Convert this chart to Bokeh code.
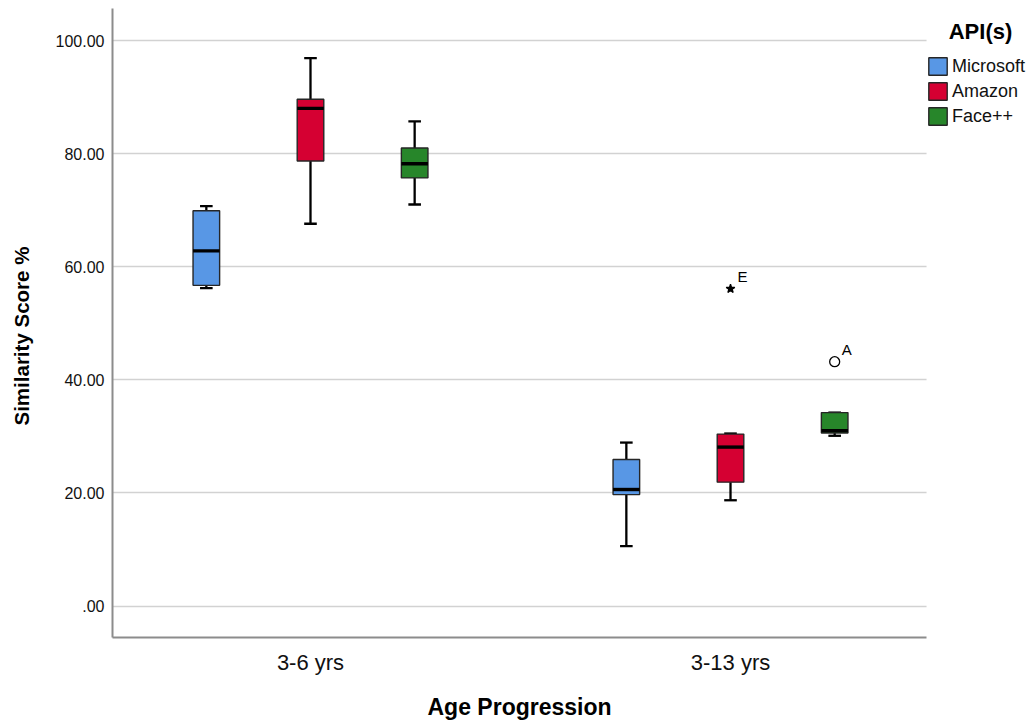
from bokeh.plotting import figure
from bokeh.models import (ColumnDataSource, FixedTicker, Range1d, Legend, LegendItem,
                          Label, BoxAnnotation, Title, LinearAxis)
from bokeh.core.properties import value
from bokeh.embed import file_html
from bokeh.resources import INLINE

# ---------------- data ----------------
groups = ["3-6 yrs", "3-13 yrs"]
apis = ["Microsoft", "Amazon", "Face++"]
api_colors = ["#5897E5", "#D50032", "#27862A"]

# statistics per API, one value per age group (order of `groups`)
whisker_low = {"Microsoft": [56.2, 10.6], "Amazon": [67.6, 18.7], "Face++": [71.0, 30.1]}
q1 = {"Microsoft": [56.7, 19.7], "Amazon": [78.7, 21.9], "Face++": [75.7, 30.6]}
median = {"Microsoft": [62.8, 20.6], "Amazon": [88.0, 28.1], "Face++": [78.2, 31.0]}
q3 = {"Microsoft": [69.9, 25.9], "Amazon": [89.6, 30.4], "Face++": [81.0, 34.2]}
whisker_high = {"Microsoft": [70.7, 28.9], "Amazon": [96.9, 30.5], "Face++": [85.7, 34.2]}

outlier_group = ["3-13 yrs", "3-13 yrs"]
outlier_api = ["Amazon", "Face++"]
outlier_value = [56.1, 43.2]
outlier_label = ["E", "A"]
outlier_kind = ["extreme", "outlier"]

y_ticks = [0, 20, 40, 60, 80, 100]
y_tick_labels = [".00", "20.00", "40.00", "60.00", "80.00", "100.00"]

x_title = "Age Progression"
y_title = "Similarity Score %"
legend_title = "API(s)"

# ---------------- layout constants ----------------
FONT = "Liberation Sans"
dodge = 0.248
box_w = 0.0633
cap_w = 0.030
x_start, x_plot_end, x_end = -0.4714, 1.4667, 1.719
y_start, y_end = -5.57, 105.66

p = figure(width=1032, height=722, output_backend="svg", toolbar_location=None,
           x_range=Range1d(x_start, x_end), y_range=Range1d(y_start, y_end),
           min_border_left=112, min_border_right=0, min_border_top=8,
           min_border_bottom=85)
p.outline_line_color = None
p.background_fill_color = "white"
p.border_fill_color = "white"

legend_items = []
for i, api in enumerate(apis):
    xs = [gi + (i - 1) * dodge for gi in range(len(groups))]
    src = ColumnDataSource(dict(
        x=xs,
        x0=[x - box_w / 2 for x in xs], x1=[x + box_w / 2 for x in xs],
        c0=[x - cap_w / 2 for x in xs], c1=[x + cap_w / 2 for x in xs],
        lo=whisker_low[api], q1=q1[api], med=median[api], q3=q3[api], hi=whisker_high[api],
    ))
    for a, b in [("q3", "hi"), ("q1", "lo")]:
        p.segment(x0="x", y0=a, x1="x", y1=b, source=src, line_color="black", line_width=2.3)
    for c in ["hi", "lo"]:
        p.segment(x0="c0", y0=c, x1="c1", y1=c, source=src, line_color="black", line_width=2.3)
    r = p.vbar(x="x", width=box_w, bottom="q1", top="q3", source=src,
               fill_color=api_colors[i], line_color="#262626", line_width=1.4)
    p.segment(x0="x0", y0="med", x1="x1", y1="med", source=src, line_color="black",
              line_width=3.4)
    legend_items.append(LegendItem(label=api, renderers=[r]))

# outliers
ox = [groups.index(g) + (apis.index(a) - 1) * dodge for g, a in zip(outlier_group, outlier_api)]
for kind, marker, fill in [("extreme", "star", "black"), ("outlier", "circle", "white")]:
    idx = [k for k, v in enumerate(outlier_kind) if v == kind]
    s = ColumnDataSource(dict(x=[ox[k] for k in idx], y=[outlier_value[k] for k in idx],
                              t=[outlier_label[k] for k in idx]))
    p.scatter(x="x", y="y", source=s, marker=marker, size=10 if marker == "circle" else 9,
              fill_color=fill, line_color="black", line_width=1.3)
    p.text(x="x", y="y", text="t", source=s, x_offset=7, y_offset=-12,
           text_align="left", text_baseline="middle", text_font=value(FONT),
           text_font_size="15px", text_color="black")

# axes
p.xaxis.ticker = FixedTicker(ticks=list(range(len(groups))))
p.xaxis.major_label_overrides = {i: g for i, g in enumerate(groups)}
p.xaxis.bounds = (x_start, x_plot_end)
p.yaxis.ticker = FixedTicker(ticks=y_ticks)
p.yaxis.major_label_overrides = {t: l for t, l in zip(y_ticks, y_tick_labels)}
for ax in (p.xaxis, p.yaxis):
    ax.axis_line_color = "#8c8c8c"
    ax.axis_line_width = 2
    ax.major_tick_line_color = None
    ax.minor_tick_line_color = None
    ax.major_tick_out = 0
    ax.major_tick_in = 0
    ax.major_label_text_font = FONT
    ax.major_label_text_color = "#111111"

p.xaxis.major_label_text_font_size = "22px"
p.xaxis.major_label_standoff = 12
p.yaxis.major_label_text_font_size = "16px"
p.yaxis.major_label_standoff = 8

# invisible spacer axes (one white tick in an empty corner, no labels),
# so the titles sit at the outer edges of the picture
def spacer(gap, tick):
    return LinearAxis(ticker=FixedTicker(ticks=[tick]), axis_line_color=None,
                      major_tick_line_color="white", minor_tick_line_color=None,
                      major_tick_out=gap, major_tick_in=0, major_label_standoff=0,
                      major_label_text_color=None)

p.add_layout(spacer(12, x_end - 0.02), "below")
p.add_layout(spacer(9, y_start + 0.5), "left")

# axis titles placed relative to the visible plotting region
p.add_layout(Title(text=x_title, align="left", offset=315, standoff=4,
                   vertical_align="bottom",
                   text_font=FONT, text_font_size="23px", text_font_style="bold",
                   text_color="black"), "below")
p.add_layout(Title(text=y_title, align="left", offset=212, standoff=18,
                   vertical_align="top",
                   text_font=FONT, text_font_size="20.5px", text_font_style="bold",
                   text_color="black"), "left")

p.xgrid.grid_line_color = None
p.ygrid.ticker = FixedTicker(ticks=y_ticks)
p.ygrid.grid_line_color = "#d2d2d2"
p.ygrid.grid_line_width = 1.6

# blank area right of the plotting region (legend area)
p.add_layout(BoxAnnotation(left=x_plot_end, fill_color="white", fill_alpha=1.0,
                           line_color=None, level="underlay"))

# legend
legend = Legend(items=legend_items, location=(814, 510), orientation="vertical",
                glyph_width=23, glyph_height=22, label_height=22, spacing=3,
                label_standoff=3, padding=0, margin=0,
                label_text_font=FONT, label_text_font_size="18px",
                label_text_color="#111111",
                border_line_color=None, background_fill_alpha=0)
p.add_layout(legend)
p.add_layout(Label(x=868, y=606, x_units="screen", y_units="screen", text=legend_title,
                   text_align="center", text_baseline="middle", text_font=FONT,
                   text_font_size="22px", text_font_style="bold", text_color="black"))

open("out.html", "w").write(file_html(p, INLINE))
